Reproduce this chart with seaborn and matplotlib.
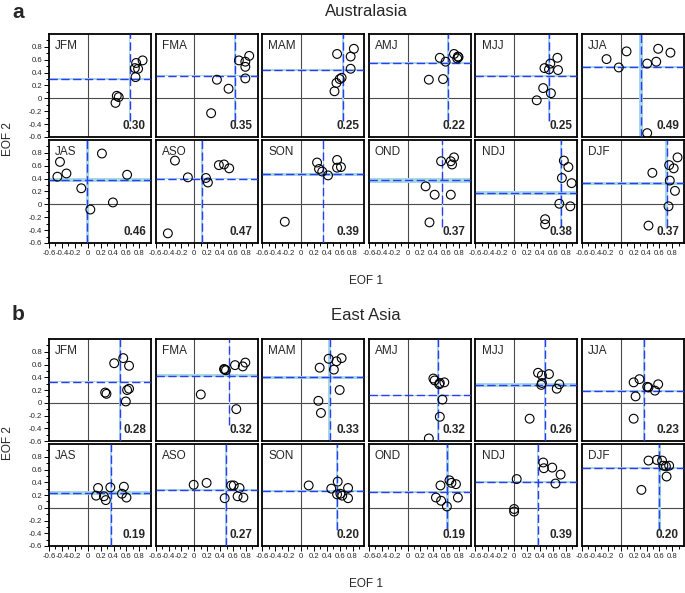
import numpy as np
import pandas as pd
import matplotlib
matplotlib.use("Agg")
import matplotlib.pyplot as plt
import seaborn as sns

seasons = ['JFM', 'FMA', 'MAM', 'AMJ', 'MJJ', 'JJA', 'JAS', 'ASO', 'SON', 'OND', 'NDJ', 'DJF']

aus_eof1 = [
    [0.75, 0.85, 0.73, 0.78, 0.74, 0.45, 0.48, 0.43],
    [0.69, 0.85, 0.79, 0.79, 0.79, 0.35, 0.53, 0.26],
    [0.56, 0.82, 0.77, 0.77, 0.63, 0.60, 0.55, 0.52],
    [0.72, 0.78, 0.77, 0.50, 0.59, 0.33, 0.55, 0.79],
    [0.67, 0.56, 0.47, 0.54, 0.68, 0.45, 0.57, 0.35],
    [-0.22, 0.09, 0.58, 0.77, 0.55, 0.41, -0.03, 0.41],
    [-0.43, -0.47, -0.33, 0.22, -0.10, 0.39, 0.04, 0.61],
    [-0.30, -0.10, 0.18, 0.21, 0.38, 0.46, 0.54, -0.41],
    [0.25, 0.28, 0.33, 0.42, 0.56, 0.56, 0.62, -0.25],
    [0.72, 0.67, 0.69, 0.52, 0.28, 0.42, 0.67, 0.34],
    [0.77, 0.84, 0.74, 0.89, 0.70, 0.87, 0.48, 0.48],
    [0.88, 0.75, 0.82, 0.76, 0.84, 0.49, 0.74, 0.43],
]
aus_eof2 = [
    [0.55, 0.59, 0.47, 0.46, 0.33, 0.04, 0.02, -0.07],
    [0.59, 0.66, 0.57, 0.49, 0.31, 0.29, 0.15, -0.23],
    [0.69, 0.77, 0.65, 0.46, 0.32, 0.30, 0.24, 0.11],
    [0.69, 0.65, 0.62, 0.63, 0.57, 0.29, 0.30, 0.64],
    [0.63, 0.54, 0.47, 0.45, 0.44, 0.16, 0.08, -0.03],
    [0.61, 0.73, 0.77, 0.71, 0.57, 0.54, 0.48, -0.54],
    [0.66, 0.43, 0.48, 0.79, 0.25, 0.03, -0.08, 0.46],
    [0.68, 0.42, 0.41, 0.34, 0.61, 0.62, 0.56, -0.45],
    [0.65, 0.55, 0.51, 0.45, 0.69, 0.57, 0.58, -0.27],
    [0.73, 0.67, 0.62, 0.67, 0.28, 0.15, 0.15, -0.28],
    [0.68, 0.58, 0.41, 0.33, 0.01, -0.03, -0.23, -0.31],
    [0.73, 0.61, 0.56, 0.37, 0.21, 0.49, -0.03, -0.33],
]
ea_eof1 = [
    [0.55, 0.41, 0.64, 0.64, 0.61, 0.27, 0.29, 0.59],
    [0.79, 0.75, 0.63, 0.46, 0.49, 0.10, 0.65, 0.47],
    [0.29, 0.43, 0.51, 0.55, 0.63, 0.60, 0.27, 0.31],
    [0.40, 0.42, 0.49, 0.50, 0.57, 0.54, 0.50, 0.33],
    [0.37, 0.54, 0.43, 0.43, 0.42, 0.70, 0.66, 0.24],
    [0.20, 0.29, 0.41, 0.43, 0.53, 0.58, 0.23, 0.20],
    [0.16, 0.35, 0.56, 0.13, 0.25, 0.28, 0.53, 0.60],
    [-0.01, 0.19, 0.57, 0.61, 0.70, 0.47, 0.67, 0.76],
    [0.12, 0.47, 0.57, 0.56, 0.61, 0.64, 0.73, 0.73],
    [0.65, 0.68, 0.75, 0.51, 0.44, 0.52, 0.61, 0.78],
    [0.45, 0.46, 0.59, 0.72, 0.64, 0.04, 0.00, 0.00],
    [0.43, 0.56, 0.64, 0.66, 0.70, 0.75, 0.71, 0.32],
]
ea_eof2 = [
    [0.70, 0.62, 0.58, 0.22, 0.20, 0.16, 0.14, 0.02],
    [0.63, 0.57, 0.59, 0.53, 0.51, 0.13, -0.10, 0.52],
    [0.55, 0.69, 0.52, 0.65, 0.70, 0.20, 0.03, -0.16],
    [0.38, 0.35, 0.29, 0.31, 0.32, 0.05, -0.22, -0.56],
    [0.47, 0.45, 0.43, 0.31, 0.28, 0.29, 0.22, -0.25],
    [0.32, 0.37, 0.25, 0.24, 0.19, 0.29, 0.10, -0.25],
    [0.31, 0.32, 0.33, 0.19, 0.18, 0.12, 0.22, 0.16],
    [0.36, 0.39, 0.35, 0.35, 0.31, 0.15, 0.18, 0.16],
    [0.35, 0.30, 0.41, 0.21, 0.22, 0.19, 0.31, 0.15],
    [0.43, 0.39, 0.37, 0.35, 0.16, 0.11, 0.02, 0.16],
    [0.71, 0.62, 0.63, 0.52, 0.38, 0.45, -0.02, -0.06],
    [0.74, 0.75, 0.74, 0.66, 0.65, 0.66, 0.49, 0.28],
]

aus_scores = ['0.30', '0.35', '0.25', '0.22', '0.25', '0.49', '0.46', '0.47', '0.39', '0.37', '0.38', '0.37']
ea_scores = ['0.28', '0.32', '0.33', '0.32', '0.26', '0.23', '0.19', '0.27', '0.20', '0.19', '0.39', '0.20']

# half-widths of the shaded uncertainty bands around the mean lines
aus_hband = [0.018, 0.01, 0.012, 0.018, 0.018, 0.018, 0.032, 0.012, 0.018, 0.035, 0.028, 0.018]
aus_vband = [0.01, 0.01, 0.01, 0.01, 0.018, 0.032, 0.022, 0.012, 0.012, 0.01, 0.018, 0.022]
ea_hband = [0.012, 0.022, 0.018, 0.012, 0.035, 0.018, 0.028, 0.012, 0.018, 0.018, 0.018, 0.018]
ea_vband = [0.012, 0.012, 0.022, 0.018, 0.012, 0.012, 0.018, 0.018, 0.018, 0.018, 0.012, 0.022]
# lower end of the EOF1 mean line
aus_vlow = [-0.35, -0.35, -0.35, -0.35, -0.35, -0.6, -0.6, -0.6, -0.6, -0.35, -0.35, -0.35]
ea_vlow = [-0.6, -0.35, -0.6, -0.6, -0.6, -0.6, -0.6, -0.6, -0.35, -0.35, -0.6, -0.35]

xticks = [-0.6, -0.4, -0.2, 0, 0.2, 0.4, 0.6, 0.8]
xticklabels = ['-0.6', '-0.4', '-0.2', '0', '0.2', '0.4', '0.6', '0.8']
yticks = [-0.6, -0.4, -0.2, 0, 0.2, 0.4, 0.6, 0.8]
yticklabels = ['-0.6', '-0.4', '-0.2', '0', '0.2', '0.4', '0.6', '0.8']

sns.set_theme(style="white")
plt.rcParams['font.family'] = ['Liberation Sans', 'DejaVu Sans']

W, H = 685, 593
fig = plt.figure(figsize=(W / 100, H / 100), dpi=100)

def rect(l, t, w, h):
    return [l / W, 1 - (t + h) / H, w / W, h / H]

col_left = [49 + i * 106.6 for i in range(6)]
pw = 102.0
groups = [
    dict(e1=aus_eof1, e2=aus_eof2, sc=aus_scores, hb=aus_hband, vb=aus_vband, vl=aus_vlow,
         tops=[34, 140], ph=103, letter='a', title='Australasia', ty=12, xl_y=281, yl_y=139),
    dict(e1=ea_eof1, e2=ea_eof2, sc=ea_scores, hb=ea_hband, vb=ea_vband, vl=ea_vlow,
         tops=[339, 444], ph=102, letter='b', title='East Asia', ty=315, xl_y=584, yl_y=443),
]

band_col = '#a6d8e6'
line_col = '#2a3cf5'
XMIN, XMAX, YMIN, YMAX = -0.6, 0.98, -0.6, 1.0

for g in groups:
    for k, s in enumerate(seasons):
        r, c = divmod(k, 6)
        ax = fig.add_axes(rect(col_left[c], g['tops'][r], pw, g['ph']))
        df = pd.DataFrame({'EOF 1': g['e1'][k], 'EOF 2': g['e2'][k]})
        mx = df['EOF 1'].mean()
        my = df['EOF 2'].mean()
        ax.axhline(0, color='#4a4a4a', lw=0.8, zorder=1)
        ax.axvline(0, color='#4a4a4a', lw=0.8, zorder=1)
        ax.axhspan(my - g['hb'][k], my + g['hb'][k], color=band_col, lw=0, zorder=2)
        yfrac = (g['vl'][k] - YMIN) / (YMAX - YMIN)
        ax.axvspan(mx - g['vb'][k], mx + g['vb'][k], ymin=yfrac, ymax=1, color=band_col, lw=0, zorder=2)
        ax.axhline(my, color=line_col, lw=1.0, dashes=(6, 2.5), zorder=3)
        ax.axvline(mx, ymin=yfrac, ymax=1, color=line_col, lw=1.0, dashes=(6, 2.5), zorder=3)
        sns.scatterplot(data=df, x='EOF 1', y='EOF 2', ax=ax, marker='o', s=40,
                        color='none', edgecolor='black', linewidth=0.8, zorder=4, legend=False)
        ax.set_xlim(XMIN, XMAX)
        ax.set_ylim(YMIN, YMAX)
        ax.set_xlabel('')
        ax.set_ylabel('')
        for sp in ax.spines.values():
            sp.set_visible(True)
            sp.set_color('black')
            sp.set_linewidth(1.3)
        ax.text(0.06, 0.94, s, transform=ax.transAxes, ha='left', va='top', fontsize=8.5)
        ax.text(0.95, 0.05, g['sc'][k], transform=ax.transAxes, ha='right', va='bottom',
                fontsize=8.5, fontweight='bold')
        ax.set_xticks(xticks)
        ax.set_yticks(yticks)
        ax.set_xticks(np.arange(-0.5, 0.95, 0.2), minor=True)
        ax.set_yticks(np.arange(-0.5, 0.95, 0.2), minor=True)
        ax.tick_params(which='both', direction='out', color='black', width=0.7)
        ax.tick_params(which='major', length=3.5, pad=1.5)
        ax.tick_params(which='minor', length=2)
        if r == 1:
            ax.set_xticklabels(xticklabels, fontsize=5.6)
            ax.tick_params(axis='x', which='both', bottom=True)
        else:
            ax.set_xticklabels([])
            ax.tick_params(axis='x', which='both', bottom=False)
        if c == 0:
            ax.set_yticklabels(yticklabels, fontsize=5.6)
            ax.tick_params(axis='y', which='both', left=True)
        else:
            ax.set_yticklabels([])
            ax.tick_params(axis='y', which='both', left=False)
        ax.grid(False)
    fig.text(12 / W, 1 - g['ty'] / H, g['letter'], fontsize=15, fontweight='bold', ha='left', va='center')
    fig.text(366 / W, 1 - g['ty'] / H, g['title'], fontsize=12, ha='center', va='center')
    fig.text(366 / W, 1 - g['xl_y'] / H, 'EOF 1', fontsize=8.5, ha='center', va='center')
    fig.text(8 / W, 1 - g['yl_y'] / H, 'EOF 2', fontsize=8.5, ha='center', va='center', rotation=90)

fig.savefig('out.png', dpi=100, facecolor='white')
